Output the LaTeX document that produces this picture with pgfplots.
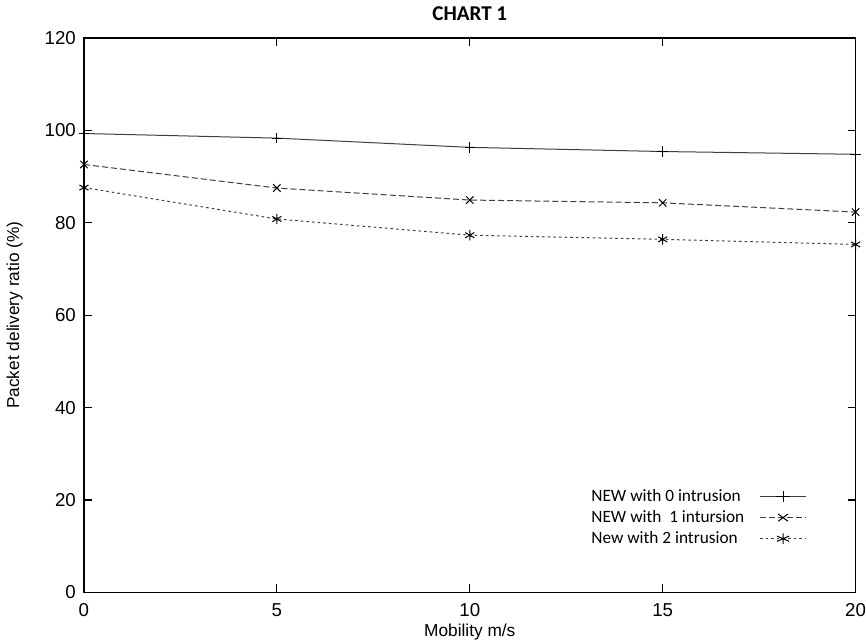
\documentclass[border=0pt]{standalone}
\usepackage{pgfplots}
\pgfplotsset{compat=1.18}
\usepackage{fontspec}
\setmainfont{Liberation Sans}
\newfontfamily\calibri{Carlito}
\begin{document}
\begin{tikzpicture}
\begin{axis}[
  scale only axis,
  width=384pt, height=276pt,
  xmin=0, xmax=20, ymin=0, ymax=120,
  xtick={0,5,10,15,20},
  ytick={0,20,40,60,80,100,120},
  tick align=inside,
  major tick length=4pt,
  tick style={black, line width=0.6pt},
  axis line style={black, line width=0.8pt},
  /pgf/number format/assume math mode=true,
  ticklabel style={font=\fontsize{9.3}{11}\selectfont},
  yticklabel style={xshift=-0.5pt},
  xticklabel style={yshift=-2pt, inner xsep=0pt},
  xlabel={Mobility m/s},
  ylabel={Packet delivery ratio (\%)},
  label style={font=\fontsize{8.6}{10}\selectfont},
  xlabel style={yshift=0pt, inner sep=0pt},
  ylabel style={yshift=4pt},
  title={\calibri\bfseries CHART 1},
  title style={font=\fontsize{10.5}{12}\selectfont, yshift=-1pt},
  legend plot pos=right,
  legend cell align=left,
  legend style={draw=none, fill=none, at={(0.945,0.07)}, anchor=south east,
    font=\calibri\fontsize{8.6}{10}\selectfont, row sep=0pt, column sep=6pt,
    nodes={inner sep=1.5pt}},
  legend image post style={xscale=1.35},
  every axis plot/.append style={line width=0.5pt},
]
\addplot[black!75, solid, mark=+, mark size=2.6pt, mark options={solid, black}] coordinates {
  (0,99.3) (5,98.3) (10,96.3) (15,95.4) (20,94.8)
};
\addlegendentry{NEW with 0 intrusion}
\addplot[black!75, dash pattern=on 3pt off 1.5pt, mark=x, mark size=2.6pt, mark options={solid, black}] coordinates {
  (0,92.6) (5,87.5) (10,84.9) (15,84.3) (20,82.3)
};
\addlegendentry{NEW with \ 1 intursion}
\addplot[black!75, dash pattern=on 1.3pt off 1.5pt, mark=asterisk, mark size=2.6pt, mark options={solid, black}] coordinates {
  (0,87.6) (5,80.8) (10,77.3) (15,76.4) (20,75.3)
};
\addlegendentry{New with 2 intrusion}
\end{axis}
\end{tikzpicture}
\end{document}
